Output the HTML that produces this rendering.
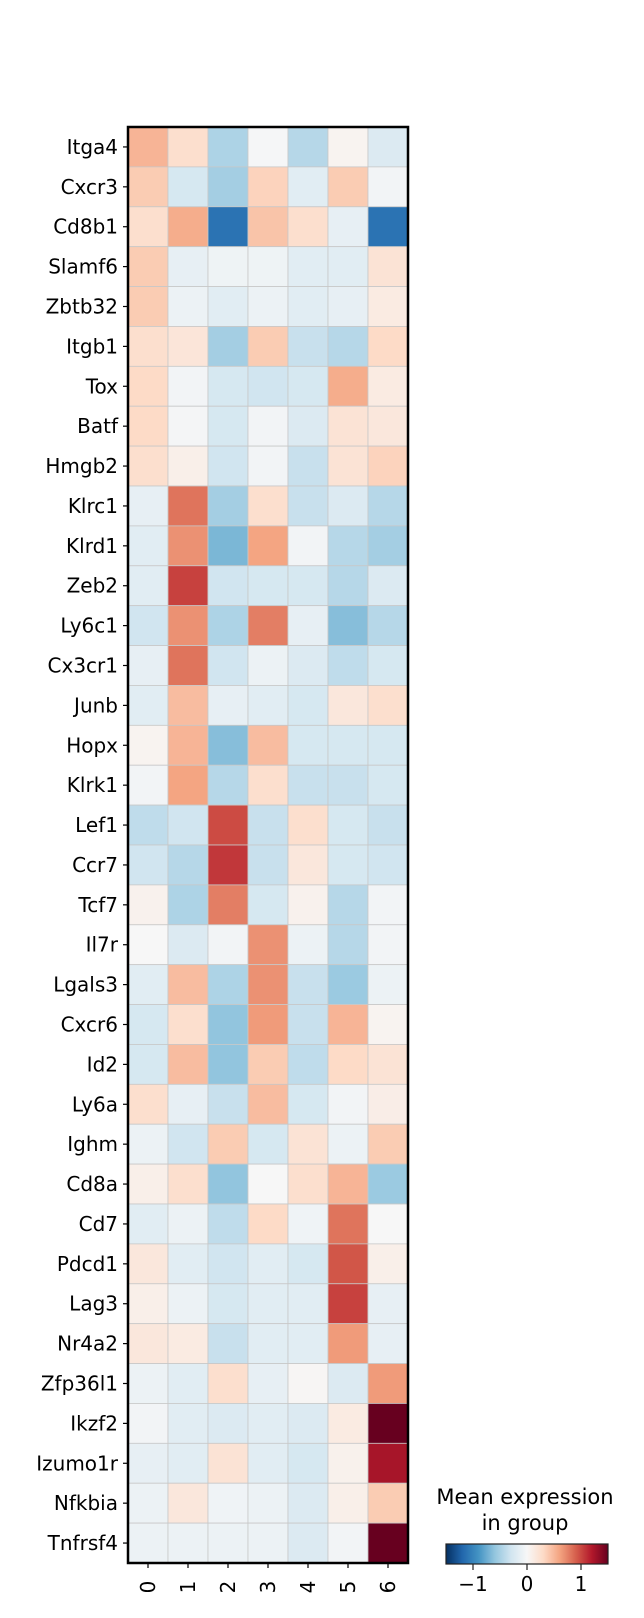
<!DOCTYPE html>
<html><head><meta charset="utf-8">
<style>
html,body{margin:0;padding:0;background:#fff;}
svg{display:block;font-family:"DejaVu Sans","Liberation Sans",sans-serif;}
</style></head>
<body>
<svg id="chart" width="644" height="1618" viewBox="0 0 644 1618"></svg>
<script>
const genes = ["Itga4","Cxcr3","Cd8b1","Slamf6","Zbtb32","Itgb1","Tox","Batf","Hmgb2","Klrc1","Klrd1","Zeb2","Ly6c1","Cx3cr1","Junb","Hopx","Klrk1","Lef1","Ccr7","Tcf7","Il7r","Lgals3","Cxcr6","Id2","Ly6a","Ighm","Cd8a","Cd7","Pdcd1","Lag3","Nr4a2","Zfp36l1","Ikzf2","Izumo1r","Nfkbia","Tnfrsf4"];
const groups = ["0","1","2","3","4","5","6"];
const values = [
[0.6,0.3,-0.55,-0.02,-0.5,0.05,-0.25],
[0.45,-0.3,-0.6,0.4,-0.2,0.45,-0.05],
[0.3,0.65,-1.3,0.5,0.3,-0.15,-1.3],
[0.45,-0.15,-0.08,-0.08,-0.2,-0.2,0.25],
[0.45,-0.1,-0.2,-0.1,-0.2,-0.15,0.15],
[0.3,0.22,-0.6,0.45,-0.4,-0.5,0.35],
[0.35,-0.05,-0.3,-0.35,-0.3,0.65,0.15],
[0.35,-0.03,-0.3,-0.05,-0.25,0.25,0.2],
[0.3,0.1,-0.35,-0.05,-0.4,0.25,0.4],
[-0.15,0.95,-0.6,0.3,-0.4,-0.25,-0.5],
[-0.2,0.8,-0.8,0.7,-0.05,-0.5,-0.6],
[-0.2,1.2,-0.35,-0.3,-0.3,-0.5,-0.25],
[-0.35,0.8,-0.55,0.9,-0.15,-0.75,-0.5],
[-0.15,0.95,-0.35,-0.1,-0.25,-0.45,-0.3],
[-0.2,0.55,-0.15,-0.2,-0.3,0.2,0.3],
[0.05,0.6,-0.75,0.55,-0.3,-0.3,-0.3],
[-0.05,0.7,-0.5,0.3,-0.4,-0.4,-0.3],
[-0.45,-0.35,1.15,-0.4,0.3,-0.3,-0.4],
[-0.35,-0.5,1.25,-0.4,0.2,-0.3,-0.35],
[0.07,-0.55,0.9,-0.3,0.07,-0.5,-0.05],
[0.0,-0.25,-0.05,0.8,-0.1,-0.5,-0.05],
[-0.2,0.55,-0.55,0.8,-0.4,-0.65,-0.1],
[-0.3,0.3,-0.7,0.75,-0.4,0.6,0.05],
[-0.3,0.55,-0.7,0.45,-0.45,0.35,0.25],
[0.3,-0.15,-0.4,0.55,-0.3,-0.05,0.12],
[-0.1,-0.35,0.45,-0.3,0.25,-0.1,0.45],
[0.1,0.3,-0.7,0.0,0.3,0.6,-0.65],
[-0.2,-0.1,-0.45,0.35,-0.07,0.95,0.0],
[0.2,-0.2,-0.35,-0.2,-0.3,1.1,0.1],
[0.1,-0.1,-0.3,-0.2,-0.2,1.2,-0.15],
[0.2,0.15,-0.4,-0.2,-0.2,0.75,-0.15],
[-0.1,-0.2,0.3,-0.15,0.02,-0.25,0.75],
[-0.05,-0.2,-0.25,-0.2,-0.25,0.15,1.75],
[-0.15,-0.2,0.25,-0.2,-0.3,0.08,1.45],
[-0.1,0.2,-0.07,-0.1,-0.25,0.1,0.45],
[-0.1,-0.1,-0.1,-0.1,-0.25,-0.05,1.75]
];
const cbTicks = [-1,0,1];

const NS="http://www.w3.org/2000/svg";
const svg=document.getElementById("chart");
function mk(tag,attrs,parent){const e=document.createElementNS(NS,tag);for(const k in attrs)e.setAttribute(k,attrs[k]);(parent||svg).appendChild(e);return e;}
const stops=["#053061","#2166ac","#4393c3","#92c5de","#d1e5f0","#f7f7f7","#fddbc7","#f4a582","#d6604d","#b2182b","#67001f"];
function hex(h){return [1,3,5].map(i=>parseInt(h.substr(i,2),16));}
function cmap(t){t=Math.max(0,Math.min(1,t));const p=t*10,i=Math.min(9,Math.floor(p)),f=p-i;const a=hex(stops[i]),b=hex(stops[i+1]);return "rgb("+a.map((v,k)=>Math.round(v+(b[k]-v)*f)).join(",")+")";}
const cellMax=1.75;
const X0=128,Y0=127,W=280,H=1436;
const cw=W/groups.length, ch=H/genes.length;
const xPos=i=>X0+i*cw, yPos=j=>Y0+j*ch;

values.forEach((row,j)=>row.forEach((v,i)=>{
  const r=mk("rect",{x:xPos(i),y:yPos(j),width:cw,height:ch,fill:cmap((v+cellMax)/(2*cellMax)),stroke:"#c8c8c8","stroke-width":0.8});
  
  
}));
const fr=mk("rect",{x:X0,y:Y0,width:W,height:H,fill:"none",stroke:"#000","stroke-width":2.5});



genes.forEach((g,j)=>{
  const y=yPos(j)+ch/2;
  mk("line",{x1:X0-5,x2:X0,y1:y,y2:y,stroke:"#000","stroke-width":1.2});
  const t=mk("text",{x:X0-10,y:y+7,"text-anchor":"end","font-size":20,fill:"#000"});
  t.textContent=g;
  
  
});
groups.forEach((g,i)=>{
  const x=xPos(i)+cw/2;
  mk("line",{x1:x,x2:x,y1:Y0+H,y2:Y0+H+5,stroke:"#000","stroke-width":1.2});
  const t=mk("text",{x:0,y:0,"text-anchor":"middle","font-size":20,fill:"#000",transform:"translate("+(x+7)+","+(Y0+H+24)+") rotate(-90)"});
  t.textContent=g;
  
  
});

const CX0=446,CX1=608,CY=1544,CH=20,cbMin=-1.5,cbMax=1.5;
const defs=mk("defs",{});
const lg=mk("linearGradient",{id:"rdbu",x1:"0",x2:"1",y1:"0",y2:"0"},defs);
for(let k=0;k<=20;k++){mk("stop",{offset:(k/20),"stop-color":cmap(k/20)},lg);}
const cb=mk("rect",{x:CX0,y:CY,width:CX1-CX0,height:CH,fill:"url(#rdbu)",stroke:"#222","stroke-width":1.2});


const cbx=v=>CX0+(v-cbMin)/(cbMax-cbMin)*(CX1-CX0);
cbTicks.forEach(v=>{
  const x=cbx(v);
  mk("line",{x1:x,x2:x,y1:CY+CH,y2:CY+CH+6,stroke:"#222","stroke-width":1.2});
  const t=mk("text",{x:x,y:CY+CH+27,"text-anchor":"middle","font-size":20,fill:"#000"});
  t.textContent=v<0?"\u2212"+Math.abs(v):String(v);
  
  
});
const t1=mk("text",{x:525,y:1504,"text-anchor":"middle","font-size":21,fill:"#000"});
t1.textContent="Mean expression";


const t2=mk("text",{x:525,y:1530,"text-anchor":"middle","font-size":21,fill:"#000"});
t2.textContent="in group";


</script>
</body></html>
